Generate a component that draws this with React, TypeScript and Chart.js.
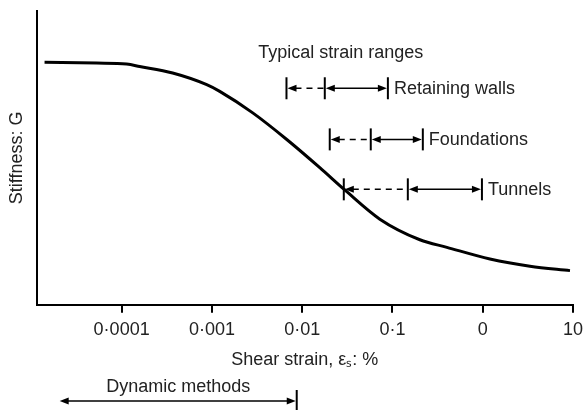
import { useEffect, useRef } from 'react';
import { Chart, registerables } from 'chart.js';

Chart.register(...registerables);

// Shear strain (%) and stiffness G (relative units)
const strainPct = [
  0.000014, 0.0000528, 0.0001136, 0.0001583, 0.0003675, 0.000876, 0.001221,
  0.002834, 0.00675, 0.01567, 0.02967, 0.07249, 0.2012, 0.401, 1.202, 3.336, 9.26,
];
const stiffnessG = [
  0.8254, 0.8227, 0.8193, 0.8112, 0.7888, 0.7492, 0.7264, 0.6532, 0.5627, 0.4668,
  0.3908, 0.2915, 0.2214, 0.1956, 0.1559, 0.1312, 0.1163,
];

// x-axis ticks (decades) and their printed labels
const tickValues = [0.0001, 0.001, 0.01, 0.1, 1, 10];
const tickLabels = ['0\u00B70001', '0\u00B7001', '0\u00B701', '0\u00B71', '0', '10'];

// Typical strain ranges
const rangeNames = ['Retaining walls', 'Foundations', 'Tunnels'];
const rangeLow = [0.0067, 0.0202, 0.0289];
const rangeMid = [0.0178, 0.0575, 0.148];
const rangeHigh = [0.089, 0.217, 0.98];
const rangeLevel = [0.737, 0.563, 0.393];

const headingText = 'Typical strain ranges';
const headingStrain = 0.0268;
const headingLevel = 0.858;

// Dynamic methods range
const dynamicText = 'Dynamic methods';
const dynamicLow = 0.0000206;
const dynamicHigh = 0.0087;

const FONT_FAMILY = '"Liberation Sans", Arial, sans-serif';
const TEXT_COLOR = '#222';

function arrowHead(ctx: CanvasRenderingContext2D, x: number, y: number, dir: number) {
  ctx.beginPath();
  ctx.moveTo(x, y);
  ctx.lineTo(x - dir * 9, y - 3.5);
  ctx.lineTo(x - dir * 9, y + 3.5);
  ctx.closePath();
  ctx.fill();
}

function seg(ctx: CanvasRenderingContext2D, x0: number, y0: number, x1: number, y1: number) {
  ctx.beginPath();
  ctx.moveTo(x0, y0);
  ctx.lineTo(x1, y1);
  ctx.stroke();
}

const rangesPlugin = {
  id: 'strainRanges',
  afterDatasetsDraw(chart: any) {
    const { ctx, scales } = chart;
    const xs = scales.x;
    const ys = scales.y;
    ctx.save();
    ctx.strokeStyle = '#000';
    ctx.fillStyle = '#000';
    ctx.lineCap = 'butt';

    rangeNames.forEach((name, i) => {
      const yy = ys.getPixelForValue(rangeLevel[i]);
      const x0 = xs.getPixelForValue(rangeLow[i]);
      const x1 = xs.getPixelForValue(rangeMid[i]);
      const x2 = xs.getPixelForValue(rangeHigh[i]);
      ctx.setLineDash([]);
      ctx.lineWidth = 2;
      [x0, x1, x2].forEach((bx) => seg(ctx, bx, yy - 11, bx, yy + 11));
      ctx.lineWidth = 1.5;
      ctx.setLineDash([6, 5]);
      seg(ctx, x0 + 9, yy, x1 - 1, yy);
      ctx.setLineDash([]);
      arrowHead(ctx, x0 + 1, yy, -1);
      seg(ctx, x1 + 8, yy, x2 - 8, yy);
      arrowHead(ctx, x1 + 1, yy, -1);
      arrowHead(ctx, x2 - 1, yy, 1);
      ctx.fillStyle = TEXT_COLOR;
      ctx.font = `18px ${FONT_FAMILY}`;
      ctx.textAlign = 'left';
      ctx.textBaseline = 'middle';
      ctx.fillText(name, x2 + 6, yy + 1);
      ctx.fillStyle = '#000';
    });

    ctx.fillStyle = TEXT_COLOR;
    ctx.font = `18px ${FONT_FAMILY}`;
    ctx.textAlign = 'center';
    ctx.textBaseline = 'middle';
    ctx.fillText(headingText, xs.getPixelForValue(headingStrain), ys.getPixelForValue(headingLevel));

    // Dynamic methods arrow below the axis
    const dy = chart.height - 9;
    const d0 = xs.getPixelForValue(dynamicLow);
    const d1 = xs.getPixelForValue(dynamicHigh);
    ctx.fillStyle = '#000';
    ctx.lineWidth = 1.5;
    seg(ctx, d0 + 8, dy, d1 - 8, dy);
    arrowHead(ctx, d0, dy, -1);
    arrowHead(ctx, d1 - 1, dy, 1);
    ctx.lineWidth = 2;
    seg(ctx, d1, dy - 11, d1, dy + 11);
    ctx.fillStyle = TEXT_COLOR;
    ctx.fillText(dynamicText, (d0 + d1) / 2, chart.height - 23);
    ctx.restore();
  },
};

export default function App() {
  const canvasRef = useRef<HTMLCanvasElement | null>(null);

  useEffect(() => {
    if (!canvasRef.current) return;
    const chart = new Chart(canvasRef.current, {
      type: 'line',
      data: {
        datasets: [
          {
            data: strainPct.map((s, i) => ({ x: s, y: stiffnessG[i] })),
            borderColor: '#000',
            borderWidth: 3,
            pointRadius: 0,
            cubicInterpolationMode: 'monotone',
            fill: false,
          },
        ],
      },
      options: {
        responsive: false,
        animation: false,
        devicePixelRatio: 1,
        layout: { padding: { left: 0, right: 13, top: 11, bottom: 39 } },
        plugins: { legend: { display: false }, tooltip: { enabled: false } },
        scales: {
          x: {
            type: 'logarithmic',
            bounds: 'data',
            min: 0.00001143,
            max: 10,
            afterBuildTicks: (axis: any) => {
              axis.ticks = tickValues.map((v) => ({ value: v }));
            },
            afterFit: (axis: any) => {
              axis.paddingRight = 0;
              axis.paddingLeft = 0;
            },
            ticks: {
              autoSkip: false,
              maxRotation: 0,
              padding: 6,
              color: TEXT_COLOR,
              font: { family: FONT_FAMILY, size: 18 },
              callback: (_v: any, i: number) => tickLabels[i],
            },
            grid: {
              display: true,
              drawOnChartArea: false,
              drawTicks: true,
              tickLength: 8,
              color: '#000',
              lineWidth: 2,
            },
            border: { display: true, color: '#000', width: 2 },
            title: {
              display: true,
              text: 'Shear strain, \u03B5\u209B: %',
              color: TEXT_COLOR,
              font: { family: FONT_FAMILY, size: 18 },
              padding: { top: 3, bottom: 0 },
            },
          },
          y: {
            type: 'linear',
            min: 0,
            max: 1,
            ticks: { display: false },
            grid: { display: false, drawTicks: false },
            border: { display: true, color: '#000', width: 2 },
            title: {
              display: true,
              text: 'Stiffness: G',
              color: TEXT_COLOR,
              font: { family: FONT_FAMILY, size: 18 },
              padding: { top: 6, bottom: 9 },
            },
          },
        },
      },
      plugins: [rangesPlugin],
    } as any);
    return () => chart.destroy();
  }, []);

  return (
    <div style={{ position: 'absolute', left: 0, top: 0, width: 586, height: 410, background: '#fff' }}>
      <canvas ref={canvasRef} width={586} height={410} />
    </div>
  );
}
